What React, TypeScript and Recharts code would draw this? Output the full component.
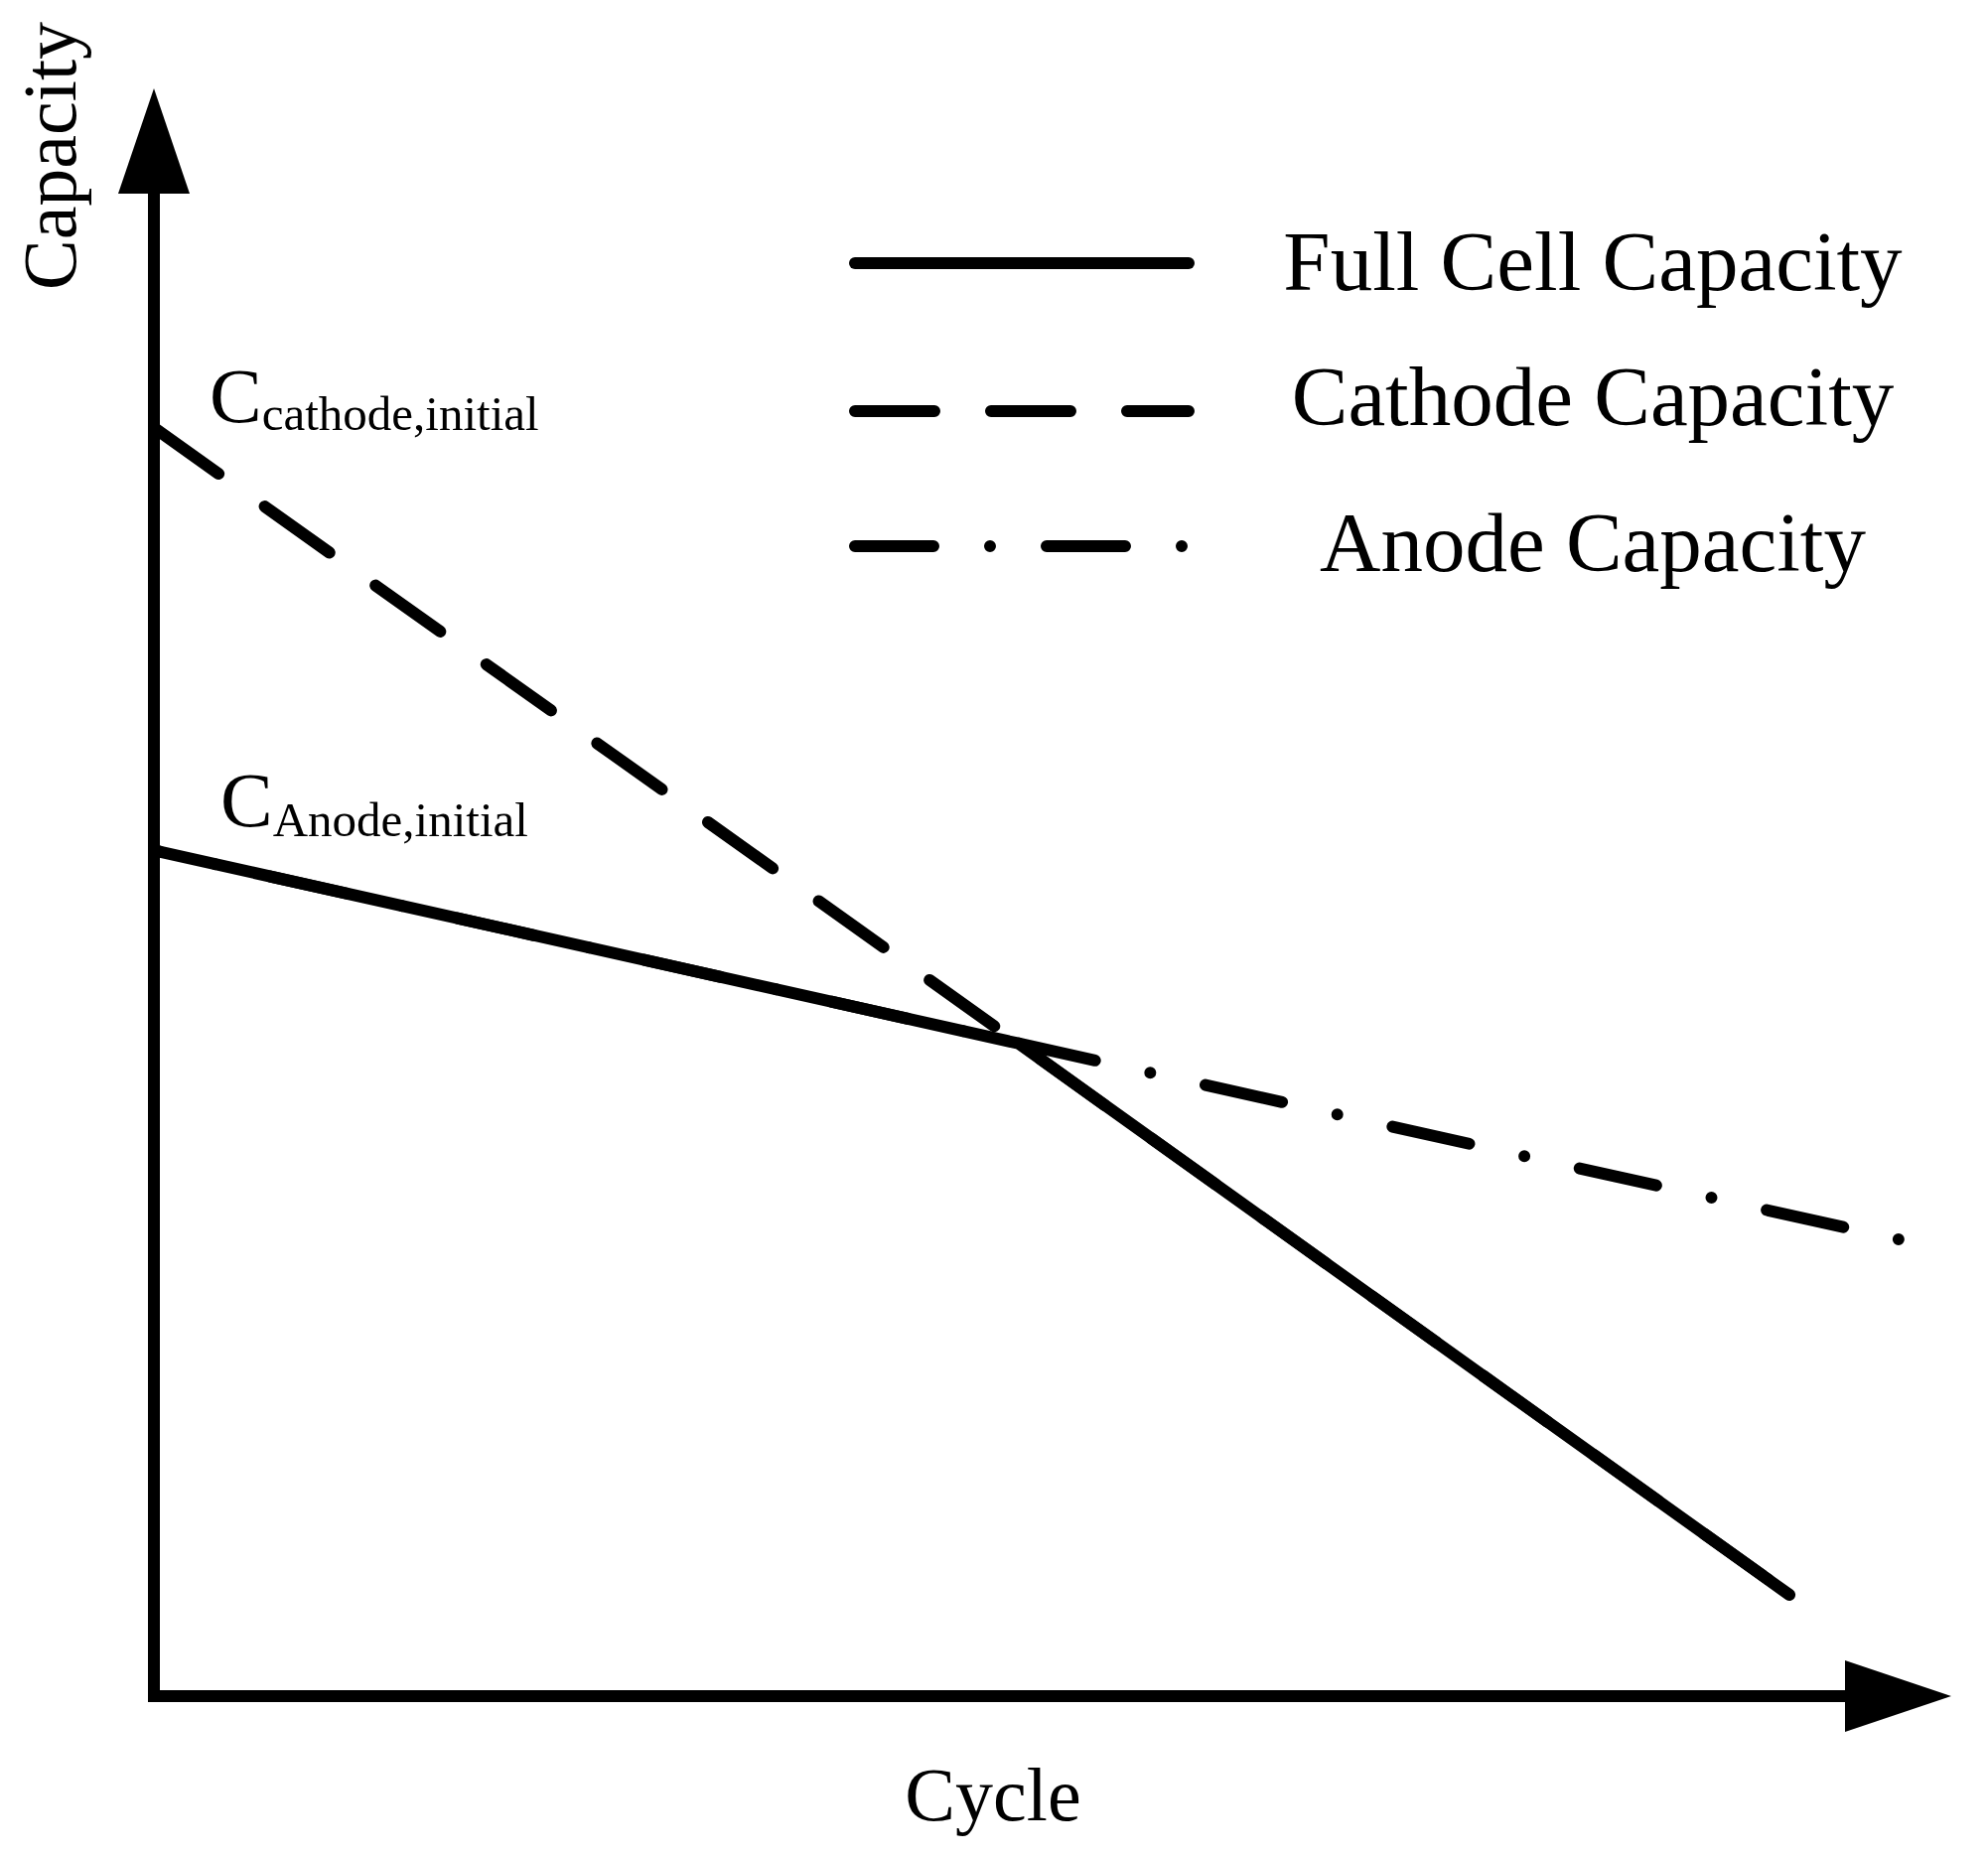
import React from 'react';
import { LineChart, Line, XAxis, YAxis, Legend, ReferenceLine, ReferenceDot } from 'recharts';

// ---- data (arbitrary units 0..100) ----
const cycleFull = [0, 48.1, 91];
const fullCapacity = [52.6, 40.6, 6.3];

const cycleCathode = [0, 48.1, 91];
const cathodeCapacity = [78.9, 40.6, 6.3];

const cycleAnode = [0, 48.1, 97.1];
const anodeCapacity = [52.6, 40.6, 28.4];

const seriesNames = ['Full Cell Capacity', 'Cathode Capacity', 'Anode Capacity'];
const xAxisLabel = 'Cycle';
const yAxisLabel = 'Capacity';
const cathodeInitialSub = 'cathode,initial';
const anodeInitialSub = 'Anode,initial';

const axisMin = 0;
const axisMax = 100;
const yArrowBase = 94;
const xArrowBase = 95;

const SERIF = '"Liberation Serif", "Times New Roman", Times, serif';
const W = 2002;
const H = 1871;
const LW = 12;

const dashStyles: Record<string, { dash?: string; offset?: number }> = {
  'Full Cell Capacity': {},
  'Cathode Capacity': { dash: '80 57', offset: 0 },
  'Anode Capacity': { dash: '79 57 0 57', offset: 73 },
};

const toPoints = (xs: number[], ys: number[]) => xs.map((x, i) => ({ x, y: ys[i] }));

const upArrow = (p: any) => {
  const { cx, cy } = p;
  return <polygon points={`${cx},${cy} ${cx - 36},${cy + 106} ${cx + 36},${cy + 106}`} fill="#000" />;
};
const rightArrow = (p: any) => {
  const { cx, cy } = p;
  return <polygon points={`${cx},${cy} ${cx - 107},${cy - 36} ${cx - 107},${cy + 36}`} fill="#000" />;
};

const legendRows = [
  { lineY: 265, textY: 292 },
  { lineY: 414, textY: 428 },
  { lineY: 550, textY: 575 },
];

const renderLegend = (props: any) => {
  const payload: any[] = props.payload || [];
  return (
    <svg width={W} height={700} style={{ display: 'block' }}>
      {seriesNames.map((name, i) => {
        const item = payload.find((p) => p.value === name);
        const color = (item && item.color) || '#000';
        const st = dashStyles[name];
        const row = legendRows[i];
        return (
          <g key={name}>
            <line
              x1={861}
              x2={1197}
              y1={row.lineY}
              y2={row.lineY}
              stroke={color}
              strokeWidth={LW}
              strokeLinecap="round"
              strokeDasharray={st.dash}
            />
            <text x={1604} y={row.textY} textAnchor="middle" fontFamily={SERIF} fontSize={85} fill="#000">
              {name}
            </text>
          </g>
        );
      })}
    </svg>
  );
};

export default function App() {
  return (
    <div style={{ position: 'absolute', left: 0, top: 0, width: W, height: H, background: '#fff' }}>
      <LineChart width={W} height={H} margin={{ top: 89, right: 37, bottom: 163, left: 155 }}>
        <XAxis type="number" dataKey="x" domain={[axisMin, axisMax]} hide allowDataOverflow />
        <YAxis type="number" dataKey="y" domain={[axisMin, axisMax]} hide allowDataOverflow />

        <ReferenceLine
          segment={[{ x: axisMin, y: axisMin }, { x: axisMin, y: yArrowBase }]}
          stroke="#000"
          strokeWidth={LW}
          strokeLinecap="square"
          ifOverflow="visible"
        />
        <ReferenceLine
          segment={[{ x: axisMin, y: axisMin }, { x: xArrowBase, y: axisMin }]}
          stroke="#000"
          strokeWidth={LW}
          strokeLinecap="square"
          ifOverflow="visible"
        />
        <ReferenceDot x={axisMin} y={axisMax} r={1} shape={upArrow} ifOverflow="visible" />
        <ReferenceDot x={axisMax} y={axisMin} r={1} shape={rightArrow} ifOverflow="visible" />

        <Line
          name={seriesNames[2]}
          data={toPoints(cycleAnode, anodeCapacity)}
          dataKey="y"
          type="linear"
          stroke="#000"
          strokeWidth={LW}
          strokeLinecap="round"
          strokeDasharray={dashStyles['Anode Capacity'].dash}
          strokeDashoffset={dashStyles['Anode Capacity'].offset}
          dot={false}
          activeDot={false}
          isAnimationActive={false}
        />
        <Line
          name={seriesNames[1]}
          data={toPoints(cycleCathode, cathodeCapacity)}
          dataKey="y"
          type="linear"
          stroke="#000"
          strokeWidth={LW}
          strokeLinecap="round"
          strokeDasharray={dashStyles['Cathode Capacity'].dash}
          dot={false}
          activeDot={false}
          isAnimationActive={false}
        />
        <Line
          name={seriesNames[0]}
          data={toPoints(cycleFull, fullCapacity)}
          dataKey="y"
          type="linear"
          stroke="#000"
          strokeWidth={LW}
          strokeLinecap="round"
          strokeLinejoin="round"
          dot={false}
          activeDot={false}
          isAnimationActive={false}
        />

        <Legend
          layout="vertical"
          align="center"
          verticalAlign="middle"
          content={renderLegend}
          width={W}
          height={700}
          wrapperStyle={{ left: 0, top: 0, width: W, height: 700, margin: 0, padding: 0 }}
        />

        <text
          x={76}
          y={157}
          transform="rotate(-90 76 157)"
          textAnchor="middle"
          fontFamily={SERIF}
          fontSize={76}
          fill="#000"
        >
          {yAxisLabel}
        </text>
        <text x={1000} y={1833} textAnchor="middle" fontFamily={SERIF} fontSize={76} fill="#000">
          {xAxisLabel}
        </text>
        <text x={211} y={425} fontFamily={SERIF} fontSize={79} fill="#000">
          C
          <tspan fontSize={49} dy={8}>
            {cathodeInitialSub}
          </tspan>
        </text>
        <text x={222} y={832} fontFamily={SERIF} fontSize={79} fill="#000">
          C
          <tspan fontSize={49} dy={10}>
            {anodeInitialSub}
          </tspan>
        </text>
      </LineChart>
    </div>
  );
}
